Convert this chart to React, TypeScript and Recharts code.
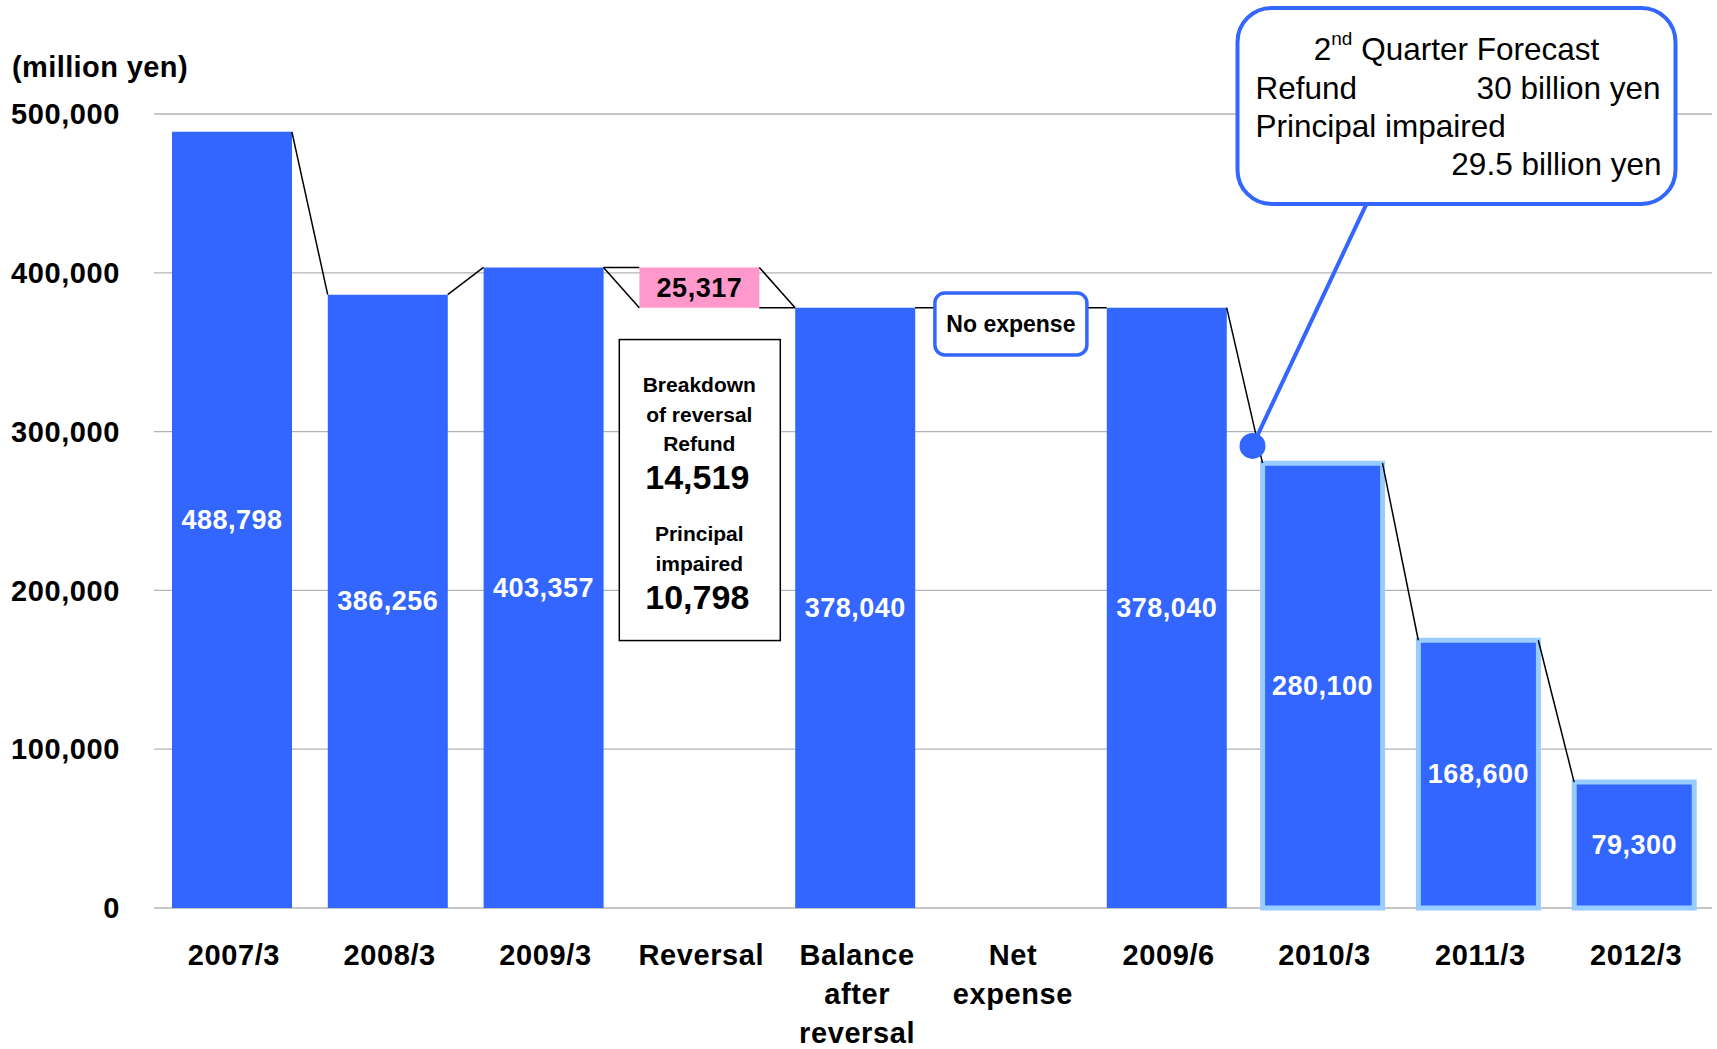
import React from "react";
import { BarChart, Bar, XAxis, YAxis, CartesianGrid, Cell, LabelList, ReferenceLine, ReferenceDot } from "recharts";

const FONT = '"Liberation Sans", Arial, Helvetica, sans-serif';
const BLUE = "#3366ff";
const PINK = "#ff99cc";
const EDGE = "#99ccff";
const BAR_SIZE = 120;

const categories = ["2007/3", "2008/3", "2009/3", "Reversal", "Balance after reversal", "Net expense", "2009/6", "2010/3", "2011/3", "2012/3"];
const tickLabels = [["2007/3"], ["2008/3"], ["2009/3"], ["Reversal"], ["Balance", "after", "reversal"], ["Net", "expense"], ["2009/6"], ["2010/3"], ["2011/3"], ["2012/3"]];
const baseValues = [0, 0, 0, 378040, 0, 0, 0, 0, 0, 0];
const barValues = [488798, 386256, 403357, 25317, 378040, 0, 378040, 280100, 168600, 79300];
const isForecast = [false, false, false, false, false, false, false, true, true, true];
const yTicks = [0, 100000, 200000, 300000, 400000, 500000];

const breakdownItems = [["Refund"], ["Principal", "impaired"]];
const breakdownValues = [14519, 10798];
const forecastRows = [["Refund", "30 billion yen"], ["Principal impaired", "29.5 billion yen"]];

const data = categories.map((name, i) => ({ name, base: baseValues[i], value: barValues[i] }));

// connectors between bar edges: [from, which end, to, which end]
type End = "top" | "bottom";
const level = (i: number, end: End) => (end === "top" ? baseValues[i] + barValues[i] : baseValues[i]);
const links: [number, End, number, End][] = [
    [0, "top", 1, "top"],
    [1, "top", 2, "top"],
    [2, "top", 3, "top"],
    [2, "top", 3, "bottom"],
    [3, "top", 4, "top"],
    [3, "bottom", 4, "top"],
    [4, "top", 6, "top"],
    [6, "top", 7, "top"],
    [7, "top", 8, "top"],
    [8, "top", 9, "top"],
];

const fmt = (v: number) => v.toLocaleString("en-US");

const Connector = (p: any) => (
    <line x1={p.x1 + BAR_SIZE / 2} y1={p.y1} x2={p.x2 - BAR_SIZE / 2} y2={p.y2} stroke="#000" strokeWidth={1.5} />
);

const ValueLabel = (p: any) => {
    const vb = p.viewBox ?? p;
    const x = vb.x ?? p.x;
    const y = vb.y ?? p.y;
    const w = vb.width ?? p.width;
    const h = vb.height ?? p.height;
    if (!p.value) return null;
    return (
        <text x={x + w / 2} y={y + h / 2} textAnchor="middle" dominantBaseline="central"
            fill={p.index === 3 ? "#000" : "#fff"} fontSize={27} fontWeight="bold" fontFamily={FONT} letterSpacing={0.5}>
            {fmt(p.value)}
        </text>
    );
};

const XTick = (p: any) => {
    const idx = categories.indexOf(p.payload.value);
    const lines = tickLabels[idx] ?? [p.payload.value];
    return (
        <g>
            {lines.map((l, k) => (
                <text key={k} x={p.x + 2} y={p.y + 57 + k * 39} textAnchor="middle" fontSize={29} fontWeight="bold"
                    fontFamily={FONT} fill="#000" letterSpacing={0.6}>
                    {l}
                </text>
            ))}
        </g>
    );
};

const BreakdownBox = (p: any) => {
    const { cx, cy } = p;
    const small = { fontSize: 21, fontWeight: "bold" as const, fontFamily: FONT, fill: "#000", textAnchor: "middle" as const, dominantBaseline: "central" as const };
    const big = { ...small, fontSize: 34 };
    return (
        <g>
            <rect x={cx - 80} y={cy - 150} width={161} height={301} fill="#fff" stroke="#000" strokeWidth={1.5} />
            <text x={cx} y={cy - 105} {...small}>Breakdown</text>
            <text x={cx} y={cy - 75} {...small}>of reversal</text>
            <text x={cx} y={cy - 46} {...small}>{breakdownItems[0][0]}</text>
            <text x={cx - 2} y={cy - 13} {...big}>{fmt(breakdownValues[0])}</text>
            <text x={cx} y={cy + 44} {...small}>{breakdownItems[1][0]}</text>
            <text x={cx} y={cy + 74} {...small}>{breakdownItems[1][1]}</text>
            <text x={cx - 2} y={cy + 107} {...big}>{fmt(breakdownValues[1])}</text>
        </g>
    );
};

const NoExpenseBox = (p: any) => (
    <g>
        <rect x={p.cx - 76} y={p.cy - 31} width={152} height={62} rx={10} fill="#fff" stroke={BLUE} strokeWidth={3.5} />
        <text x={p.cx} y={p.cy} textAnchor="middle" dominantBaseline="central" fontSize={23} fontWeight="bold" fontFamily={FONT} fill="#000">
            No expense
        </text>
    </g>
);

const ForecastCallout = (p: any) => {
    const dx = p.cx - 70;
    const dy = p.cy;
    const t = { fontSize: 31.5, fontFamily: FONT, fill: "#000", dominantBaseline: "central" as const };
    return (
        <g>
            <line x1={dx + 114} y1={dy - 242} x2={dx} y2={dy} stroke={BLUE} strokeWidth={4} />
            <circle cx={dx} cy={dy} r={13} fill={BLUE} />
            <rect x={dx - 15} y={dy - 438} width={438} height={196} rx={34} fill="#fff" stroke={BLUE} strokeWidth={4} />
            <text x={dx + 204} y={dy - 397} textAnchor="middle" {...t}>
                2<tspan fontSize={19} dy={-11}>nd</tspan><tspan dy={11}> Quarter Forecast</tspan>
            </text>
            <text x={dx + 3} y={dy - 358} textAnchor="start" {...t}>{forecastRows[0][0]}</text>
            <text x={dx + 408} y={dy - 358} textAnchor="end" {...t}>{forecastRows[0][1]}</text>
            <text x={dx + 3} y={dy - 320} textAnchor="start" {...t}>{forecastRows[1][0]}</text>
            <text x={dx + 409} y={dy - 282} textAnchor="end" {...t}>{forecastRows[1][1]}</text>
        </g>
    );
};

export default function App() {
    return (
        <div style={{ position: "absolute", left: 0, top: 0, width: 1717, height: 1049, background: "#fff" }}>
            <svg width={300} height={100} style={{ position: "absolute", left: 0, top: 0 }}>
                <text x={12} y={77} fontSize={29} fontWeight="bold" fontFamily={FONT} fill="#000" letterSpacing={0.4}>(million yen)</text>
            </svg>
            <BarChart width={1717} height={1049} data={data} margin={{ top: 114, right: 5, bottom: 0, left: 0 }} barSize={BAR_SIZE}>
                <CartesianGrid horizontal vertical={false} stroke="#b3b3b3" strokeWidth={1.3} />
                <XAxis dataKey="name" height={141} axisLine={false} tickLine={false} tickSize={0} tickMargin={0} interval={0} tick={<XTick />} />
                <YAxis width={154} domain={[0, 500000]} ticks={yTicks} axisLine={false} tickLine={false} tickSize={0} tickMargin={34}
                    tickFormatter={fmt} tick={{ fontSize: 29, fontWeight: "bold", fill: "#000", fontFamily: FONT, letterSpacing: 0.6 }} />
                <Bar dataKey="base" stackId="w" fill="transparent" isAnimationActive={false} />
                <Bar dataKey="value" stackId="w" isAnimationActive={false}>
                    {data.map((d, i) => (
                        <Cell key={d.name} fill={i === 3 ? PINK : BLUE} stroke={isForecast[i] ? EDGE : "none"} strokeWidth={isForecast[i] ? 5 : 0} />
                    ))}
                    <LabelList dataKey="value" content={ValueLabel} />
                </Bar>
                {links.map(([a, ea, b, eb], k) => (
                    <ReferenceLine key={k}
                        segment={[{ x: categories[a], y: level(a, ea) }, { x: categories[b], y: level(b, eb) }]}
                        shape={Connector} />
                ))}
                <ReferenceDot x="Reversal" y={263500} shape={BreakdownBox} />
                <ReferenceDot x="Net expense" y={367800} shape={NoExpenseBox} />
                <ReferenceDot x="2010/3" y={291000} shape={ForecastCallout} />
            </BarChart>
        </div>
    );
}
